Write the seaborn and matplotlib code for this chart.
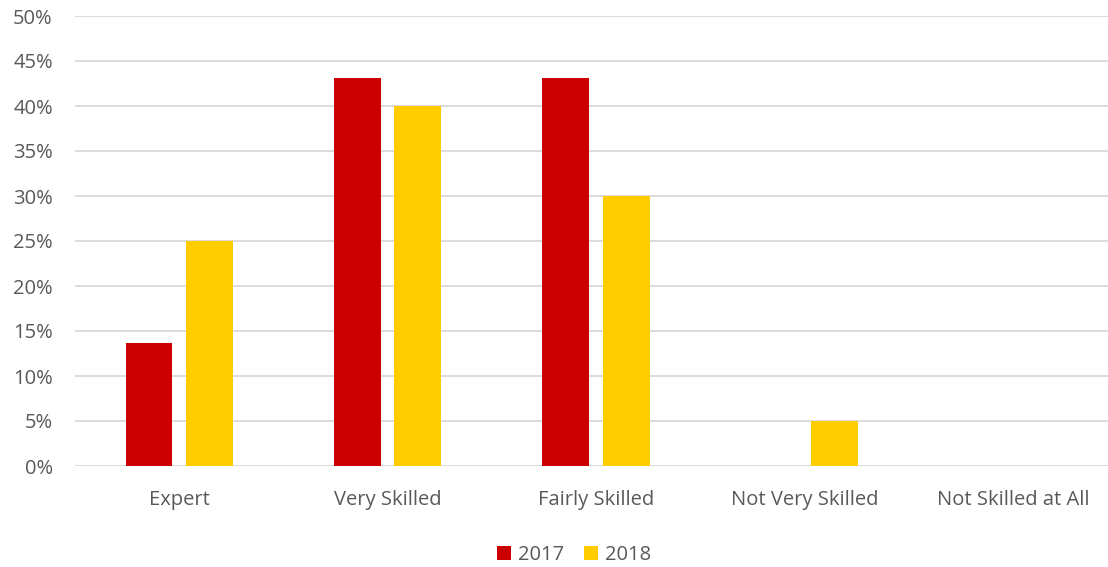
import matplotlib
matplotlib.use("Agg")
import matplotlib.pyplot as plt
import seaborn as sns
import pandas as pd
from matplotlib.ticker import PercentFormatter, MultipleLocator

categories = ["Expert", "Very Skilled", "Fairly Skilled", "Not Very Skilled", "Not Skilled at All"]
years = ["2017", "2018"]
values_2017 = [13.7, 43.1, 43.1, 0.0, 0.0]
values_2018 = [25.0, 40.0, 30.0, 5.0, 0.0]
colors = ["#CC0000", "#FFCC00"]

df = pd.DataFrame({
    "category": categories * 2,
    "year": [years[0]] * len(categories) + [years[1]] * len(categories),
    "value": values_2017 + values_2018,
})

sns.set_theme(style="white")
plt.rcParams["font.family"] = ["Open Sans", "DejaVu Sans"]

fig = plt.figure(figsize=(11.08, 5.67), dpi=100)
# plot area runs slightly past the right edge of the canvas
ax = fig.add_axes([75 / 1108, 1 - 466 / 567, (1117 - 75) / 1108, 450 / 567])

sns.barplot(data=df, x="category", y="value", hue="year", palette=colors,
            width=0.58, gap=0.225, ax=ax, saturation=1, errorbar=None, zorder=3,
            linewidth=0)

ax.set_ylim(0, 50)
ax.set_xlim(-0.5, len(categories) - 0.5)
ax.yaxis.set_major_locator(MultipleLocator(5))
ax.yaxis.set_major_formatter(PercentFormatter(decimals=0))
ax.grid(axis="y", color="#D9D9D9", linewidth=1.3, zorder=0)
ax.grid(axis="x", visible=False)
for s in ax.spines.values():
    s.set_visible(False)
ax.set_xlabel("")
ax.set_ylabel("")
ax.tick_params(axis="both", length=0, labelsize=14.5, labelcolor="#595959")
ax.tick_params(axis="y", pad=16)
ax.tick_params(axis="x", pad=17)
for lbl in ax.get_yticklabels():
    lbl.set_horizontalalignment("right")

leg = ax.legend(loc="upper center", bbox_to_anchor=(0.479, -0.135), ncol=2, frameon=False,
                fontsize=14.5, handlelength=0.7, handleheight=0.7, handletextpad=0.35,
                columnspacing=1.0, labelcolor="#595959")

fig.savefig("out.png", dpi=100)
